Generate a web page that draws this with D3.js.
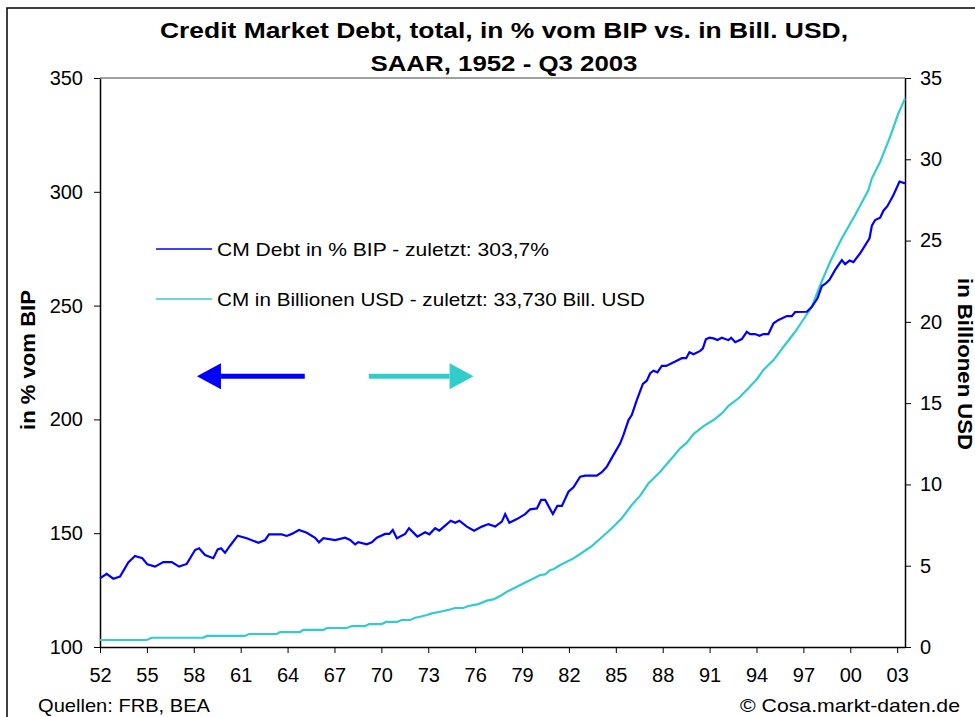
<!DOCTYPE html>
<meta charset="utf-8">
<script src="https://cdn.jsdelivr.net/npm/d3@7"></script>
<style>
  body { margin: 0; background: #fff; }
  text { font-family: "Liberation Sans", Arial, sans-serif; fill: #000; }
</style>
<div id="chart"></div>
<script>
// ---- data ----
var debtYears = [1952.00,1952.43,1952.85,1953.28,1953.81,1954.24,1954.71,1955.03,1955.52,1956.05,1956.59,1957.06,1957.55,1958.08,1958.34,1958.72,1959.25,1959.53,1959.74,1960.00,1960.32,1960.81,1961.39,1962.13,1962.56,1962.81,1963.63,1963.95,1964.27,1964.73,1965.23,1965.76,1966.01,1966.29,1967.04,1967.68,1968.00,1968.32,1968.53,1969.07,1969.39,1969.71,1970.24,1970.51,1970.73,1970.99,1971.52,1971.77,1972.30,1972.80,1973.07,1973.44,1973.71,1974.08,1974.44,1974.72,1974.99,1975.47,1975.93,1976.43,1976.85,1977.28,1977.71,1977.92,1978.19,1978.67,1979.20,1979.52,1979.95,1980.22,1980.48,1980.97,1981.26,1981.55,1981.97,1982.29,1982.72,1983.04,1983.78,1984.10,1984.42,1984.85,1985.28,1985.49,1985.81,1986.02,1986.34,1986.73,1986.98,1987.20,1987.41,1987.66,1987.94,1988.22,1988.80,1989.22,1989.50,1989.71,1989.97,1990.40,1990.57,1990.76,1990.99,1991.25,1991.50,1991.78,1992.04,1992.21,1992.38,1992.64,1993.06,1993.38,1993.59,1993.91,1994.19,1994.44,1994.76,1995.09,1995.41,1995.94,1996.26,1996.47,1997.22,1997.54,1997.90,1998.18,1998.39,1998.67,1999.03,1999.46,1999.67,1999.95,2000.20,2000.63,2001.23,2001.38,2001.59,2001.91,2002.12,2002.38,2002.76,2003.15,2003.50];
var debtPct = [130.2,132.1,130.0,130.9,137.2,140.0,139.0,136.3,135.3,137.3,137.3,135.3,136.5,142.6,143.4,140.4,139.0,142.9,143.4,141.4,144.5,148.9,147.8,145.8,147.0,149.5,149.5,148.8,149.7,151.4,150.2,148.0,146.0,147.8,147.0,148.0,147.0,145.1,146.1,145.1,146.0,148.0,149.7,149.7,151.4,147.8,149.7,152.2,148.5,150.4,149.5,152.2,151.1,153.3,155.5,154.6,155.5,152.9,151.1,152.9,154.0,152.9,155.1,158.4,154.6,156.2,158.4,160.5,160.9,164.6,164.6,158.4,162.0,162.0,168.2,170.2,174.8,175.3,175.3,176.8,179.2,184.4,189.5,193.2,199.7,201.9,208.5,215.6,217.0,220.3,221.4,220.7,223.5,223.5,225.4,226.9,226.9,229.5,228.6,230.1,231.2,235.2,235.9,235.6,234.9,235.9,235.2,234.9,235.9,233.9,235.3,238.5,237.5,237.5,236.7,237.5,237.5,242.2,243.7,245.4,245.4,247.2,247.3,249.5,253.2,258.6,259.5,261.3,265.7,270.0,268.2,269.8,269.1,273.0,279.6,285.1,287.6,288.6,291.7,293.8,298.6,304.5,303.7];

var usdYears = [1952.00,1954.99,1955.31,1958.61,1958.83,1961.28,1961.53,1963.31,1963.52,1964.80,1965.01,1966.29,1966.51,1967.79,1968.11,1968.96,1969.23,1970.02,1970.30,1970.99,1971.30,1971.84,1972.16,1972.48,1972.91,1973.23,1973.76,1974.29,1974.72,1975.25,1975.57,1976.21,1976.75,1977.17,1977.71,1978.03,1978.67,1979.31,1979.73,1980.16,1980.48,1980.80,1981.01,1981.44,1982.29,1982.93,1983.46,1984.10,1984.74,1985.38,1986.02,1986.56,1987.09,1987.84,1988.58,1989.12,1989.54,1989.97,1990.61,1991.25,1991.78,1992.21,1992.85,1993.48,1994.02,1994.44,1995.09,1995.73,1996.47,1997.01,1997.54,1998.08,1998.71,1999.46,2000.31,2001.16,2001.38,2001.91,2002.55,2003.08,2003.50];
var usdTn = [0.43,0.43,0.57,0.57,0.68,0.68,0.80,0.80,0.92,0.92,1.05,1.05,1.17,1.17,1.29,1.29,1.41,1.41,1.54,1.54,1.66,1.66,1.80,1.86,1.97,2.07,2.17,2.28,2.40,2.40,2.52,2.64,2.85,2.93,3.20,3.40,3.71,4.02,4.22,4.43,4.47,4.74,4.78,5.04,5.45,5.86,6.21,6.75,7.30,7.92,8.73,9.31,10.07,10.78,11.61,12.22,12.57,13.10,13.59,13.96,14.37,14.84,15.30,15.91,16.47,17.04,17.65,18.47,19.39,20.16,20.93,22.27,23.70,25.14,26.57,28.11,28.83,29.85,31.39,32.83,33.73];

var xTickYears = [1952,1955,1958,1961,1964,1967,1970,1973,1976,1979,1982,1985,1988,1991,1994,1997,2000,2003];
var xTickLabels = ["52","55","58","61","64","67","70","73","76","79","82","85","88","91","94","97","00","03"];
var leftTicks = [100,150,200,250,300,350];
var rightTicks = [0,5,10,15,20,25,30,35];

var titleLines = ["Credit Market Debt, total, in % vom BIP vs. in Bill. USD,", "SAAR, 1952 - Q3 2003"];
var legendLabels = ["CM Debt in % BIP - zuletzt: 303,7%", "CM in Billionen USD - zuletzt: 33,730 Bill. USD"];

// ---- layout ----
var W = 975, H = 717;
var margin = {top: 78, right: 70, bottom: 70, left: 100},
    width = 905 - margin.left,
    height = 647 - margin.top;
var blue = "#0000ff", cyan = "#33cccc";

var svg = d3.select("#chart").append("svg")
    .attr("width", W).attr("height", H);

// outer frame
svg.append("rect")
    .attr("x", 7).attr("y", 8).attr("width", 1000).attr("height", 760)
    .attr("fill", "none").attr("stroke", "#000").attr("stroke-width", 1.5);

// title
var titleWidths = [688, 267];
svg.selectAll(".title").data(titleLines).enter().append("text")
    .attr("x", 504).attr("y", function (d, i) { return 38 + i * 33; })
    .attr("text-anchor", "middle").attr("font-size", 22).attr("font-weight", "bold")
    .attr("textLength", function (d, i) { return titleWidths[i]; })
    .attr("lengthAdjust", "spacingAndGlyphs")
    .text(function (d) { return d; });

var g = svg.append("g").attr("transform", "translate(" + margin.left + "," + margin.top + ")");

var x = d3.scaleLinear().domain([1952, 2003.5]).range([0, width]);
var yL = d3.scaleLinear().domain([100, 350]).range([height, 0]);
var yR = d3.scaleLinear().domain([0, 35]).range([height, 0]);

// top border of plot area
g.append("line").attr("x1", 0).attr("x2", width).attr("y1", 0).attr("y2", 0)
    .attr("stroke", "#808080").attr("stroke-width", 1.5);

// axes
var xAxis = g.append("g").attr("transform", "translate(0," + height + ")")
    .call(d3.axisBottom(x).tickValues(xTickYears)
      .tickFormat(function (d, i) { return xTickLabels[i]; })
      .tickSize(6).tickSizeOuter(0).tickPadding(12));
var lAxis = g.append("g")
    .call(d3.axisLeft(yL).tickValues(leftTicks).tickSize(6).tickSizeOuter(0).tickPadding(11));
var rAxis = g.append("g").attr("transform", "translate(" + width + ",0)")
    .call(d3.axisRight(yR).tickValues(rightTicks).tickSize(6).tickSizeOuter(0).tickPadding(9));

[xAxis, lAxis, rAxis].forEach(function (a) {
  a.selectAll("path").attr("stroke", "#000").attr("stroke-width", 1.5);
  a.selectAll("line").attr("stroke", "#000").attr("stroke-width", 1);
  a.selectAll("text").attr("font-size", 20).attr("font-family", "Liberation Sans, Arial, sans-serif");
});
xAxis.selectAll("text").attr("dy", "0.85em");

// axis titles
svg.append("text")
    .attr("transform", "translate(35,360) rotate(-90)")
    .attr("text-anchor", "middle").attr("font-size", 20).attr("font-weight", "bold")
    .attr("textLength", 140).attr("lengthAdjust", "spacingAndGlyphs")
    .text("in % vom BIP");
svg.append("text")
    .attr("transform", "translate(958,364) rotate(90)")
    .attr("text-anchor", "middle").attr("font-size", 20).attr("font-weight", "bold")
    .attr("textLength", 172).attr("lengthAdjust", "spacingAndGlyphs")
    .text("in Billionen USD");

// lines
var debtLine = d3.line()
    .x(function (d, i) { return x(debtYears[i]); })
    .y(function (d) { return yL(d); });
var usdLine = d3.line()
    .x(function (d, i) { return x(usdYears[i]); })
    .y(function (d) { return yR(d); });

g.append("path").datum(usdTn).attr("d", usdLine)
    .attr("fill", "none").attr("stroke", cyan).attr("stroke-width", 2.2);
g.append("path").datum(debtPct).attr("d", debtLine)
    .attr("fill", "none").attr("stroke", blue).attr("stroke-width", 2.2);

// legend
var legendWidths = [332, 428];
var legend = svg.append("g").attr("transform", "translate(156,249)");
[blue, cyan].forEach(function (c, i) {
  legend.append("line").attr("x1", 0).attr("x2", 56)
    .attr("y1", i * 50).attr("y2", i * 50)
    .attr("stroke", c).attr("stroke-width", 1.5);
  legend.append("text").attr("x", 61).attr("y", i * 50).attr("dy", "0.35em")
    .attr("font-size", 19)
    .attr("textLength", legendWidths[i]).attr("lengthAdjust", "spacingAndGlyphs")
    .text(legendLabels[i]);
});

// arrows (placed in data space)
function arrow(x0, x1, y, color) {
  var dir = x1 > x0 ? 1 : -1, head = 24, half = 13;
  var tip = x1, base = x1 - dir * head;
  g.append("line").attr("x1", x0).attr("x2", base).attr("y1", y).attr("y2", y)
    .attr("stroke", color).attr("stroke-width", 5);
  g.append("path")
    .attr("d", "M" + tip + "," + y + "L" + base + "," + (y - half) + "L" + base + "," + (y + half) + "Z")
    .attr("fill", color);
}
arrow(x(1965.1), x(1958.2), yL(219), blue);
arrow(x(1969.2), x(1975.9), yL(219), cyan);

// footer
svg.append("text").attr("x", 38).attr("y", 712).attr("font-size", 19)
    .attr("textLength", 172).attr("lengthAdjust", "spacingAndGlyphs")
    .text("Quellen: FRB, BEA");
svg.append("text").attr("x", 740).attr("y", 712).attr("font-size", 19)
    .attr("textLength", 220).attr("lengthAdjust", "spacingAndGlyphs")
    .text("\u00a9 Cosa.markt-daten.de");
</script>
